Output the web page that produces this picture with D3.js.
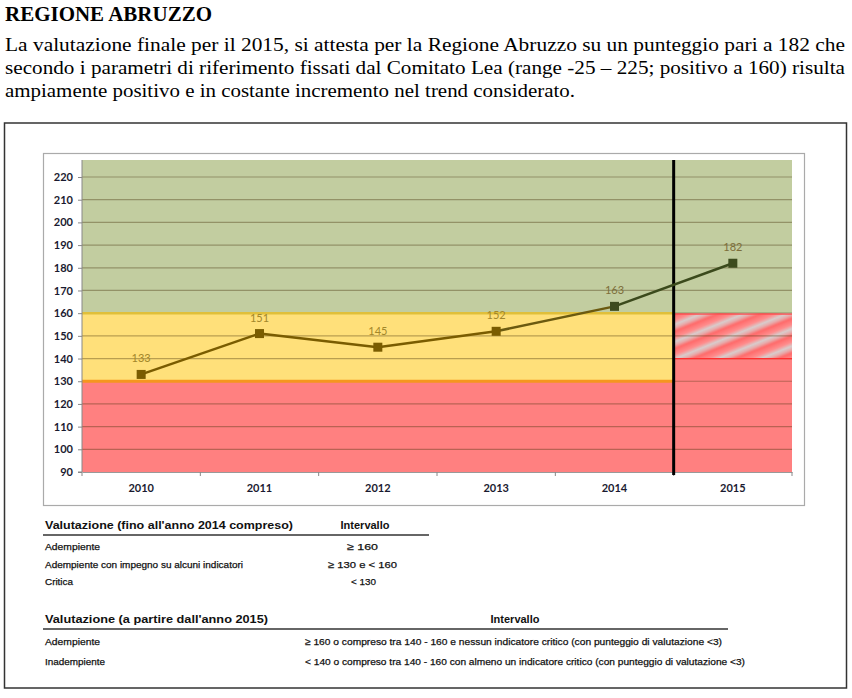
<!DOCTYPE html>
<html>
<head>
  <meta charset="utf-8">
  <script src="https://cdnjs.cloudflare.com/ajax/libs/d3/7.8.5/d3.min.js"></script>
  <style>
    body { margin: 0; background: #fff; }
    .serif { font-family: "Liberation Serif", "Times New Roman", serif; fill: #000; }
    .tick text { font-family: Lato, Calibri, sans-serif; font-weight: bold; font-size: 11px; fill: #1a1a30; }
    .tbl { font-family: "Liberation Sans", Arial, sans-serif; fill: #111; }
  </style>
</head>
<body>
<div id="chart"></div>
<script>
  // Data
  const years = ["2010", "2011", "2012", "2013", "2014", "2015"];
  const scores = [133, 151, 145, 152, 163, 182];
  const yTicks = [90, 100, 110, 120, 130, 140, 150, 160, 170, 180, 190, 200, 210, 220];
  const yDomain = [90, 227.5];

  // evaluation zones up to 2014 and from 2015
  const zonesOld = [
    {from: 160, to: 227.5, fill: "#c2cda0"},
    {from: 130, to: 160, fill: "#ffe07a"},
    {from: 90, to: 130, fill: "#ff8080"}
  ];
  const zonesNew = [
    {from: 160, to: 227.5, fill: "#c2cda0"},
    {from: 140, to: 160, fill: "url(#hatch)"},
    {from: 90, to: 140, fill: "#ff8080"}
  ];

  const titleText = "REGIONE ABRUZZO";
  const paragraph = [
    "La valutazione finale per il 2015, si attesta per la Regione Abruzzo su un punteggio pari a 182 che",
    "secondo i parametri di riferimento fissati dal Comitato Lea (range -25 \u2013 225; positivo a 160) risulta",
    "ampiamente positivo e in costante incremento nel trend considerato."
  ];

  const table1Head = ["Valutazione (fino all'anno 2014 compreso)", "Intervallo"];
  const table1Rows = [
    ["Adempiente", "\u2265 160"],
    ["Adempiente con impegno su alcuni indicatori", "\u2265 130 e < 160"],
    ["Critica", "< 130"]
  ];
  const table2Head = ["Valutazione (a partire dall'anno 2015)", "Intervallo"];
  const table2Rows = [
    ["Adempiente", "\u2265 160 o compreso tra 140 - 160 e nessun indicatore critico (con punteggio di valutazione <3)"],
    ["Inadempiente", "< 140 o compreso tra 140 - 160 con almeno un indicatore critico (con punteggio di valutazione <3)"]
  ];

  const svg = d3.select("#chart").append("svg")
    .attr("width", 852)
    .attr("height", 698);

  // hatch pattern for 2015 140-160 band
  const defs = svg.append("defs");
  const grad = defs.append("linearGradient")
    .attr("id", "stripeGrad")
    .attr("x1", 0).attr("y1", 0).attr("x2", 0).attr("y2", 1);
  grad.append("stop").attr("offset", "0%").attr("stop-color", "#ff6a6a");
  grad.append("stop").attr("offset", "35%").attr("stop-color", "#ff8c8c");
  grad.append("stop").attr("offset", "60%").attr("stop-color", "#d8cccc");
  grad.append("stop").attr("offset", "80%").attr("stop-color", "#e8a8a8");
  grad.append("stop").attr("offset", "100%").attr("stop-color", "#ff6a6a");
  const pat = defs.append("pattern")
    .attr("id", "hatch")
    .attr("patternUnits", "userSpaceOnUse")
    .attr("width", 40).attr("height", 16)
    .attr("patternTransform", "rotate(-22)");
  pat.append("rect")
    .attr("width", 40).attr("height", 16)
    .attr("fill", "url(#stripeGrad)");

  // header text
  svg.append("text")
    .attr("class", "serif")
    .attr("x", 5).attr("y", 21)
    .attr("font-size", 21).attr("font-weight", "bold")
    .attr("textLength", 207).attr("lengthAdjust", "spacingAndGlyphs")
    .text(titleText);

  const lineWidths = [840, 840, 570];
  svg.selectAll(".para")
    .data(paragraph)
    .join("text")
    .attr("class", "serif para")
    .attr("x", 5)
    .attr("y", (d, i) => 51 + i * 23)
    .attr("font-size", 19.5)
    .attr("textLength", (d, i) => lineWidths[i])
    .attr("lengthAdjust", "spacingAndGlyphs")
    .text(d => d);

  // frames
  svg.append("rect")
    .attr("x", 4.5).attr("y", 123).attr("width", 842).attr("height", 565)
    .attr("fill", "none").attr("stroke", "#333").attr("stroke-width", 1.5);
  svg.append("rect")
    .attr("x", 43.5).attr("y", 153.5).attr("width", 761).attr("height", 352)
    .attr("fill", "#fff").attr("stroke", "#aaa").attr("stroke-width", 1.2);

  // scales
  const x = d3.scaleBand().domain(years).range([82, 792]).padding(0);
  const y = d3.scaleLinear().domain(yDomain).range([472, 160]);

  const plot = svg.append("g");
  const oldYears = years.slice(0, 5);
  const splitX = x("2015");

  // backgrounds
  plot.selectAll(".zoneOld")
    .data(zonesOld)
    .join("rect")
    .attr("x", x(oldYears[0]))
    .attr("width", splitX - x(oldYears[0]))
    .attr("y", d => y(d.to))
    .attr("height", d => y(d.from) - y(d.to))
    .attr("fill", d => d.fill);
  plot.selectAll(".zoneNew")
    .data(zonesNew)
    .join("rect")
    .attr("x", splitX)
    .attr("width", x.bandwidth())
    .attr("y", d => y(d.to))
    .attr("height", d => y(d.from) - y(d.to))
    .attr("fill", d => d.fill);

  // grid
  plot.selectAll(".grid")
    .data(yTicks.filter(d => d > yDomain[0]))
    .join("line")
    .attr("x1", 82).attr("x2", 792)
    .attr("y1", d => y(d)).attr("y2", d => y(d))
    .attr("stroke", "rgba(70,50,10,0.38)")
    .attr("stroke-width", 1.2);

  // zone borders
  plot.append("line")
    .attr("x1", 82).attr("x2", splitX)
    .attr("y1", y(160)).attr("y2", y(160))
    .attr("stroke", "#e0bf3a").attr("stroke-width", 2.5);
  plot.append("line")
    .attr("x1", 82).attr("x2", splitX)
    .attr("y1", y(130)).attr("y2", y(130))
    .attr("stroke", "#f5961e").attr("stroke-width", 3);
  plot.append("line")
    .attr("x1", splitX).attr("x2", 792)
    .attr("y1", y(160) + 1).attr("y2", y(160) + 1)
    .attr("stroke", "#ff5050").attr("stroke-width", 1.2);
  plot.append("line")
    .attr("x1", splitX).attr("x2", 792)
    .attr("y1", y(140)).attr("y2", y(140))
    .attr("stroke", "#ff3030").attr("stroke-width", 1.2);

  // axes
  const yAxis = svg.append("g")
    .attr("transform", "translate(82,0)")
    .call(d3.axisLeft(y).tickValues(yTicks).tickSize(4).tickPadding(5));
  yAxis.select(".domain").attr("stroke", "#888").attr("d", `M-4,${y(90)}H0V${y(227.5)}`);
  yAxis.selectAll(".tick line").attr("stroke", "#888");

  const xAxis = svg.append("g")
    .attr("transform", `translate(0,${y(90)})`)
    .call(d3.axisBottom(x).tickSize(0).tickPadding(12));
  xAxis.select(".domain").attr("stroke", "#999");
  xAxis.selectAll(".tick text").attr("font-size", 10.5);
  svg.selectAll(".xtick")
    .data(years.concat(["end"]))
    .join("line")
    .attr("x1", d => d === "end" ? 792 : x(d))
    .attr("x2", d => d === "end" ? 792 : x(d))
    .attr("y1", y(90)).attr("y2", y(90) + 4)
    .attr("stroke", "#888");

  // separator 2014 / 2015
  svg.append("line")
    .attr("x1", splitX).attr("x2", splitX)
    .attr("y1", y(227.5)).attr("y2", y(90) + 3)
    .attr("stroke", "#000").attr("stroke-width", 3);

  // series
  const pts = years.map((yr, i) => ({year: yr, value: scores[i]}));
  const segColor = i => i < 3 ? "#7a5c00" : (i === 3 ? "#6b5a10" : "#3b4a1c");
  svg.selectAll(".seg")
    .data(pts.slice(1))
    .join("line")
    .attr("x1", (d, i) => x(pts[i].year) + x.bandwidth() / 2)
    .attr("y1", (d, i) => y(pts[i].value))
    .attr("x2", d => x(d.year) + x.bandwidth() / 2)
    .attr("y2", d => y(d.value))
    .attr("stroke", (d, i) => segColor(i))
    .attr("stroke-width", 2.5);

  svg.selectAll(".marker")
    .data(pts)
    .join("rect")
    .attr("x", d => x(d.year) + x.bandwidth() / 2 - 4.5)
    .attr("y", d => y(d.value) - 4.5)
    .attr("width", 9).attr("height", 9)
    .attr("fill", (d, i) => i < 4 ? "#7a5c00" : "#3d4b1e");

  svg.selectAll(".lbl")
    .data(pts)
    .join("text")
    .attr("x", d => x(d.year) + x.bandwidth() / 2)
    .attr("y", d => y(d.value) - 12)
    .attr("text-anchor", "middle")
    .attr("font-family", "Lato, Calibri, sans-serif")
    .attr("font-size", 11)
    .attr("fill", (d, i) => i < 4 ? "#a3872a" : "#7d6e3a")
    .text(d => d.value);

  // tables
  function drawTable(head, rows, opt) {
    const g = svg.append("g");
    g.append("text").attr("class", "tbl")
      .attr("x", 45).attr("y", opt.headY)
      .attr("font-size", 11).attr("font-weight", "bold")
      .attr("textLength", opt.headLen).attr("lengthAdjust", "spacingAndGlyphs")
      .text(head[0]);
    g.append("text").attr("class", "tbl")
      .attr("x", opt.col2).attr("y", opt.headY)
      .attr("text-anchor", "middle")
      .attr("font-size", 11).attr("font-weight", "bold")
      .text(head[1]);
    g.append("line")
      .attr("x1", 43).attr("x2", opt.lineEnd)
      .attr("y1", opt.headY + 6).attr("y2", opt.headY + 6)
      .attr("stroke", "#333").attr("stroke-width", 1.5);
    rows.forEach((r, i) => {
      const ry = opt.rowY + i * opt.rowStep;
      g.append("text").attr("class", "tbl")
        .attr("x", 45).attr("y", ry)
        .attr("font-size", 9.5)
        .attr("stroke", "#111").attr("stroke-width", 0.25)
        .attr("textLength", opt.labLen[i]).attr("lengthAdjust", "spacingAndGlyphs")
        .text(r[0]);
      g.append("text").attr("class", "tbl")
        .attr("x", opt.col2Rows[i]).attr("y", ry)
        .attr("font-size", 9.5)
        .attr("stroke", "#111").attr("stroke-width", 0.25)
        .attr("textLength", opt.valLen[i]).attr("lengthAdjust", "spacingAndGlyphs")
        .text(r[1]);
    });
  }

  drawTable(table1Head, table1Rows, {
    headY: 529, headLen: 248, col2: 365, lineEnd: 429,
    rowY: 550, rowStep: 17.5,
    labLen: [55, 198, 28], col2Rows: [347, 328, 351], valLen: [31, 69, 25]
  });
  drawTable(table2Head, table2Rows, {
    headY: 623, headLen: 223, col2: 515, lineEnd: 728,
    rowY: 645, rowStep: 20,
    labLen: [55, 60], col2Rows: [305, 305], valLen: [417, 440]
  });
</script>
</body>
</html>
